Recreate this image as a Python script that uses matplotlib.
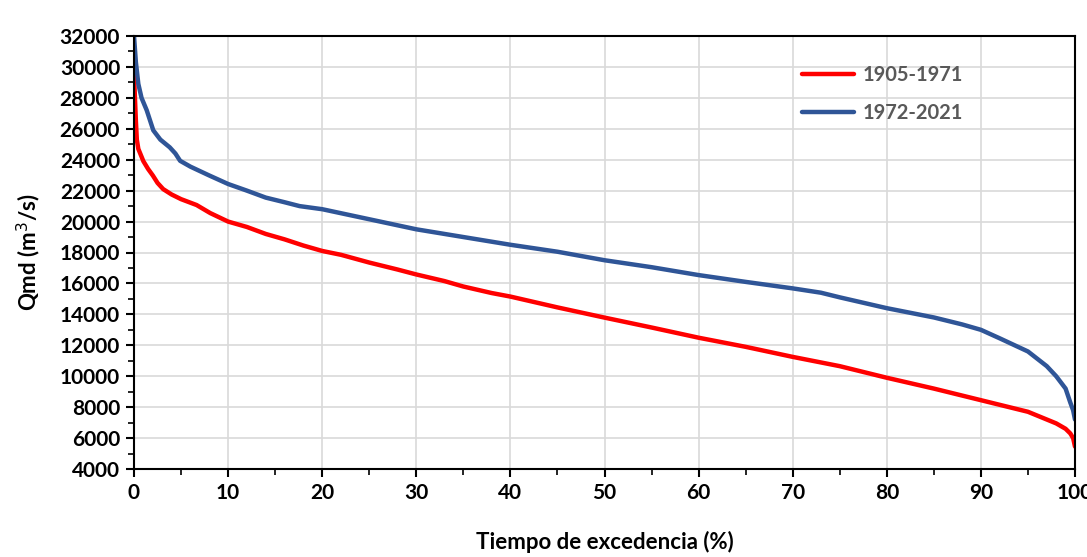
import matplotlib
matplotlib.use("Agg")
import matplotlib.pyplot as plt
from matplotlib.ticker import MultipleLocator

plt.rcParams['font.family'] = ['Lato', 'DejaVu Sans']

# Red series: 1905-1971 (exceedance %, flow m3/s)
x_red = [0, 0.1, 0.2, 0.3, 0.46, 1, 1.5, 2, 2.5, 3.1, 4, 5, 6.65, 8.1, 10, 12, 14, 16, 18,
         20, 22, 25, 28, 30, 33, 35, 38, 40, 45, 50, 55, 60, 65, 70, 75, 80, 85, 90,
         93, 95, 97, 98, 99, 99.5, 99.8, 100]
y_red = [29600, 28000, 26500, 25300, 24700, 23900, 23400, 22980, 22500, 22100, 21750, 21450,
         21070, 20550, 20000, 19650, 19200, 18850, 18450, 18100, 17850, 17350, 16900,
         16580, 16150, 15800, 15380, 15150, 14450, 13790, 13150, 12490, 11900, 11250, 10650,
         9900, 9200, 8450, 8000, 7700, 7200, 6950, 6600, 6300, 6000, 5450]

# Blue series: 1972-2021
x_blue = [0, 0.2, 0.46, 0.8, 1.35, 2.05, 2.8, 3.8, 4.4, 4.9, 6, 8, 10, 12, 14, 16, 17.6,
          20, 25, 30, 35, 40, 45, 50, 55, 60, 65, 70, 73, 75, 80, 85, 88, 90, 92, 95,
          97, 98, 99, 99.5, 99.8, 100]
y_blue = [32000, 30300, 28900, 28000, 27200, 25900, 25300, 24800, 24400, 23930, 23550,
          22980, 22430, 22000, 21550, 21250, 21000, 20800, 20150, 19500, 19000, 18500,
          18050, 17500, 17050, 16540, 16100, 15680, 15400, 15100, 14400, 13800, 13350,
          13000, 12450, 11600, 10650, 10000, 9200, 8300, 7800, 7200]

labels = ['1905-1971', '1972-2021']
colors = ['#FF0000', '#2F5597']

fig = plt.figure(figsize=(10.87, 5.57), dpi=100)
ax = fig.add_axes([134/1087, 1 - 469/557, (1075-134)/1087, (469-36)/557])

ax.plot(x_red, y_red, color=colors[0], lw=3.2, label=labels[0], solid_capstyle='round')
ax.plot(x_blue, y_blue, color=colors[1], lw=3.2, label=labels[1], solid_capstyle='round')

ax.set_xlim(0, 100)
ax.set_ylim(4000, 32000)
ax.xaxis.set_major_locator(MultipleLocator(10))
ax.xaxis.set_minor_locator(MultipleLocator(5))
ax.yaxis.set_major_locator(MultipleLocator(2000))
ax.yaxis.set_minor_locator(MultipleLocator(1000))
ax.grid(True, which='major', color='#D9D9D9', lw=1.2)
ax.set_axisbelow(True)

for s in ax.spines.values():
    s.set_color('black')
    s.set_linewidth(1.5)

ax.tick_params(axis='both', which='major', direction='out', length=6, width=1.5,
               labelsize=15, colors='black', pad=4)
ax.tick_params(axis='both', which='minor', direction='out', length=4, width=1.2)
for lab in ax.get_xticklabels() + ax.get_yticklabels():
    lab.set_fontweight('bold')

ax.set_xlabel('Tiempo de excedencia (%)', fontsize=16, fontweight='bold', labelpad=20)
ax.set_ylabel('Qmd (m$^3$/s)', fontsize=16, fontweight='bold', labelpad=12)

leg = ax.legend(loc='upper right', bbox_to_anchor=(0.90, 0.975), frameon=False,
                fontsize=14.5, handlelength=2.6, labelspacing=0.9, handletextpad=0.4)
for t in leg.get_texts():
    t.set_color('#595959')
    t.set_fontweight('bold')

fig.savefig('out.png', dpi=100)
